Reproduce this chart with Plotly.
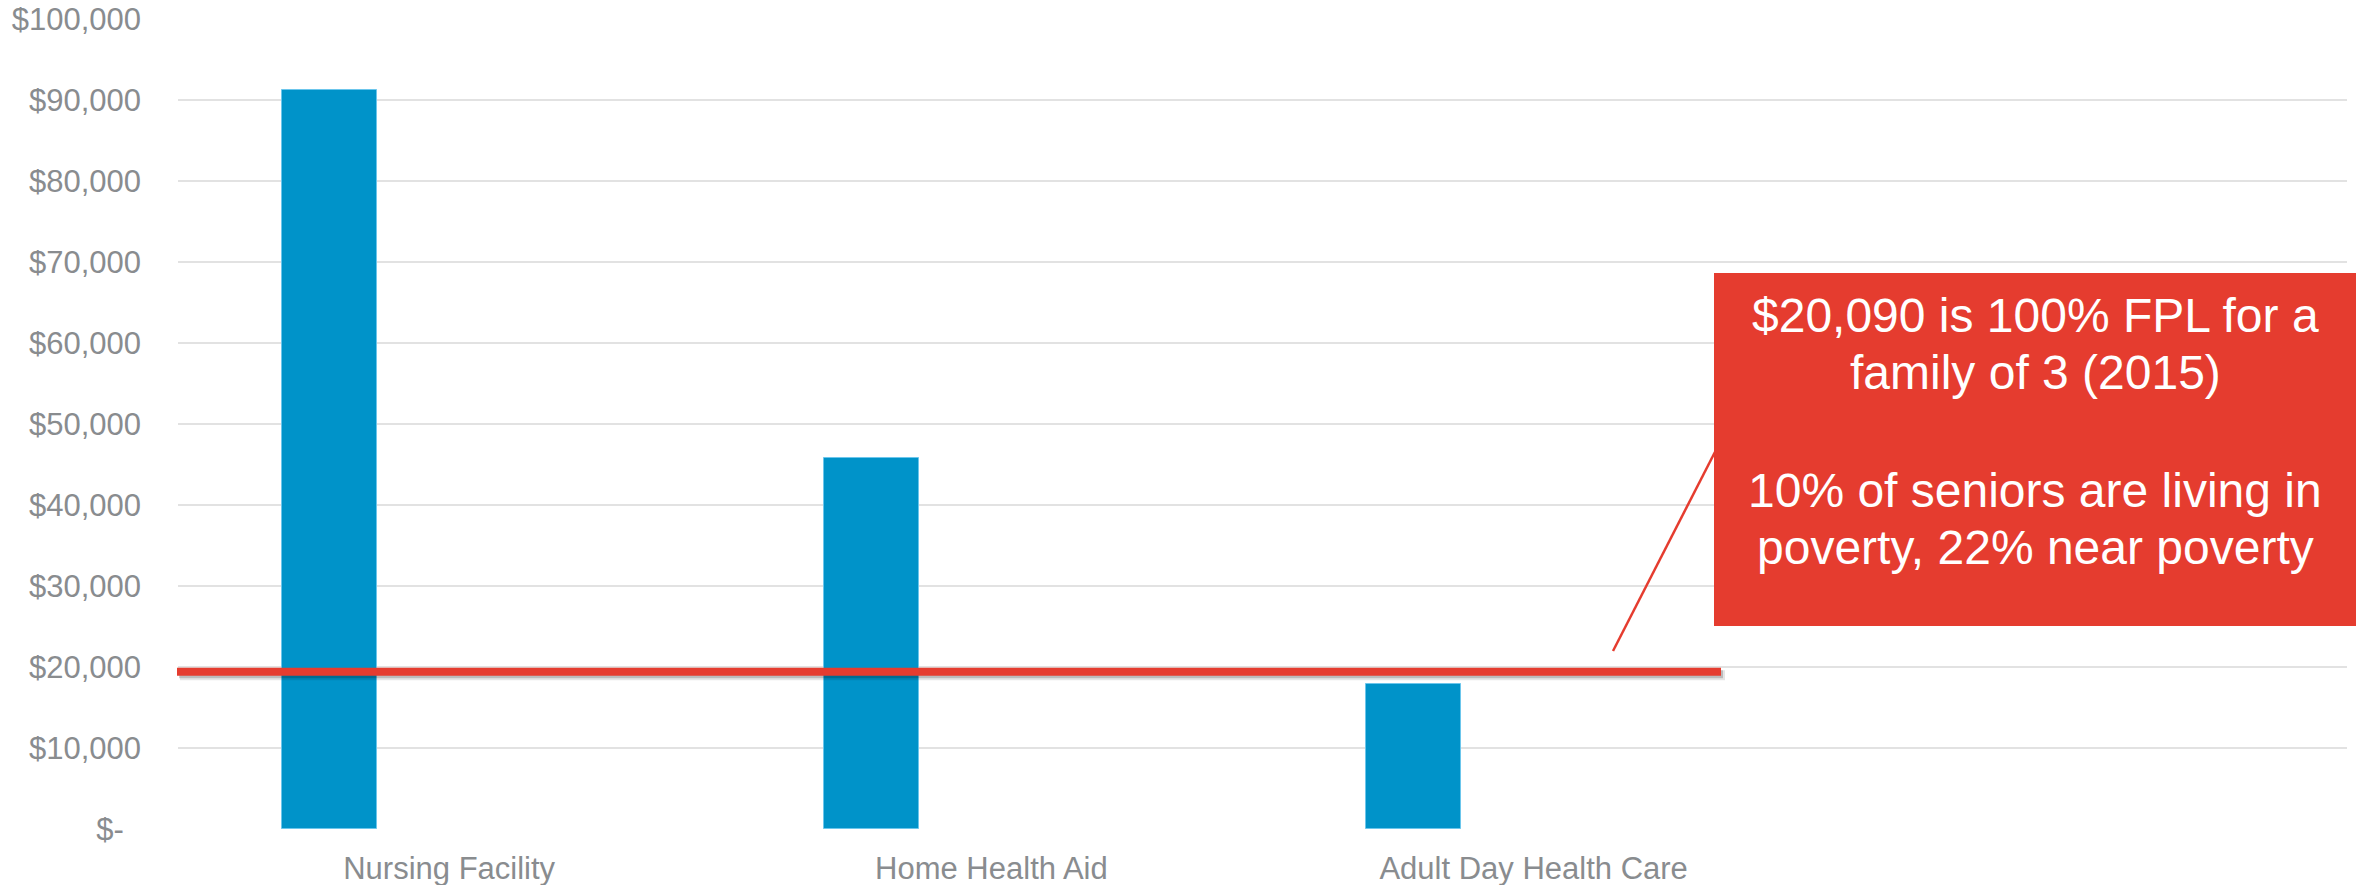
import plotly.graph_objects as go

# ---- data ----
categories = ["Nursing Facility", "Home Health Aid", "Adult Day Health Care"]
annual_cost = [91250, 45760, 17904]
fpl_line_value = 19400  # red reference line as drawn (~$20,090 FPL)
y_tickvals = [0, 10000, 20000, 30000, 40000, 50000, 60000, 70000, 80000, 90000, 100000]
y_ticktext = ["$-\u00a0\u00a0", "$10,000", "$20,000", "$30,000", "$40,000", "$50,000",
              "$60,000", "$70,000", "$80,000", "$90,000", "$100,000"]
box_lines = ["$20,090 is 100% FPL for a", "family of 3 (2015)",
             "10% of seniors are living in", "poverty, 22% near poverty"]

# ---- geometry helpers (pixels -> paper) ----
W, H = 2356, 885
PL, PR, PT, PB = 178, 2347, 19, 829


def xp(px):
    return (px - PL) / (PR - PL)


def yp(py):
    return (PB - py) / (PB - PT)


BLUE = "#0093C9"
RED = "#E53C2F"
GRAY = "#898C8F"
FONT = "Arial, Liberation Sans, sans-serif"

band_centers = [i + 0.5 for i in range(len(categories))]

fig = go.Figure()
fig.add_trace(go.Bar(
    x=band_centers, y=annual_cost,
    offset=-0.3085, width=0.175,
    marker=dict(color=BLUE, line=dict(color="#6CC6EC", width=1)),
    hoverinfo="skip", showlegend=False,
))

shapes = []
# shadow of the red reference line
shapes.append(dict(type="line", xref="paper", yref="y",
                   x0=xp(180), x1=xp(1725), y0=fpl_line_value - 420, y1=fpl_line_value - 420,
                   line=dict(color="rgba(0,0,0,0.10)", width=10), layer="above"))
shapes.append(dict(type="line", xref="paper", yref="y",
                   x0=xp(179), x1=xp(1723), y0=fpl_line_value - 300, y1=fpl_line_value - 300,
                   line=dict(color="rgba(0,0,0,0.18)", width=8), layer="above"))
# red reference line
shapes.append(dict(type="line", xref="paper", yref="y",
                   x0=xp(177), x1=xp(1721), y0=fpl_line_value, y1=fpl_line_value,
                   line=dict(color=RED, width=8), layer="above"))
# pointer line
shapes.append(dict(type="line", xref="paper", yref="paper",
                   x0=xp(1613), y0=yp(651), x1=xp(1716), y1=yp(450),
                   line=dict(color=RED, width=2.5), layer="above"))
# red callout box
shapes.append(dict(type="rect", xref="paper", yref="paper",
                   x0=xp(1714), x1=xp(2358), y0=yp(626), y1=yp(273),
                   fillcolor=RED, line=dict(width=0), layer="above"))

annotations = []
line_centers = [315, 372, 490, 547]
for txt, cy in zip(box_lines, line_centers):
    annotations.append(dict(
        text=txt, xref="paper", yref="paper", x=xp(2035), y=yp(cy),
        xanchor="center", yanchor="middle", showarrow=False,
        font=dict(family=FONT, size=48, color="white"),
    ))

fig.update_layout(
    width=W, height=H,
    margin=dict(l=PL, r=W - PR, t=PT, b=H - PB, pad=0, autoexpand=False),
    paper_bgcolor="white", plot_bgcolor="white",
    shapes=shapes, annotations=annotations,
    bargap=0, showlegend=False,
    font=dict(family=FONT, color=GRAY),
    xaxis=dict(
        range=[0, 4], tickvals=band_centers, ticktext=categories,
        showgrid=False, zeroline=False, showline=False, ticks="",
        tickfont=dict(family=FONT, size=31, color=GRAY),
        ticklabelstandoff=18, fixedrange=True, automargin=False,
    ),
    yaxis=dict(
        range=[0, 100000], tickvals=y_tickvals, ticktext=y_ticktext,
        showgrid=True, gridcolor="#E2E2E2", gridwidth=2,
        zeroline=False, showline=False, ticks="",
        tickfont=dict(family=FONT, size=31, color=GRAY),
        ticklabelstandoff=36, fixedrange=True, automargin=False,
    ),
)

fig.write_html("out.html")
